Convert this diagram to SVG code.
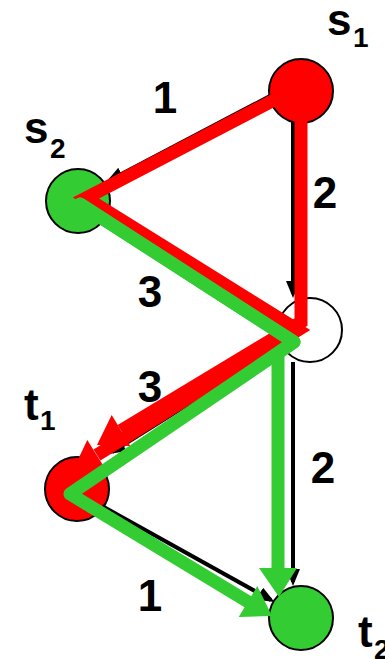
<svg xmlns="http://www.w3.org/2000/svg" width="385" height="659" viewBox="0 0 385 659">
<defs>
<marker id="ah" markerUnits="userSpaceOnUse" markerWidth="17" markerHeight="14" refX="13" refY="7" orient="auto">
<path d="M0,0 L17,7 L0,14 z" fill="#000"/>
</marker>
<style>
.node{stroke:#000;stroke-width:2}
.blk{stroke:#000;stroke-width:4;fill:none;marker-end:url(#ah)}
.red{stroke:#ff0000;stroke-width:13;fill:none;stroke-linejoin:miter;stroke-miterlimit:6}
.grn{stroke:#33cc33;stroke-width:13;fill:none;stroke-linejoin:round;stroke-linecap:round}
.rh{fill:#ff0000}
.gh{fill:#33cc33}
.lbl{font-family:"Liberation Sans",Arial,sans-serif;font-weight:bold;font-size:44px;fill:#000}
.sub{font-size:28px}
</style>
</defs>
<g id="s1"><circle class="node" cx="301" cy="91" r="32" fill="#ff0000"/><text class="lbl" x="327" y="35">s</text><text class="lbl sub" x="353" y="47">1</text></g>
<g id="s2"><circle class="node" cx="78" cy="201" r="32" fill="#33cc33"/><text class="lbl" x="24" y="143">s</text><text class="lbl sub" x="50" y="158">2</text></g>
<g id="v"><circle class="node" cx="310" cy="330" r="32" fill="#ffffff"/></g>
<g id="t1"><circle class="node" cx="77" cy="489" r="32" fill="#ff0000"/><text class="lbl" x="24" y="420">t</text><text class="lbl sub" x="40" y="430">1</text></g>
<g id="t2"><circle class="node" cx="301" cy="618" r="32" fill="#33cc33"/><text class="lbl" x="358" y="647">t</text><text class="lbl sub" x="374" y="659">2</text></g>
<g id="connectors">
<line class="blk" x1="270" y1="96" x2="110" y2="180"/>
<line class="blk" x1="293" y1="122" x2="293" y2="294"/>
<line class="blk" x1="102" y1="218" x2="277" y2="318"/>
<line class="blk" x1="283" y1="345" x2="112" y2="452"/>
<line class="blk" x1="293" y1="362" x2="293" y2="582"/>
<line class="blk" x1="102" y1="506" x2="271" y2="600"/>
<path class="red" d="M301,86 L86,198 L298,330 L97,455"/>
<path class="red" d="M301,90 L301,322 L121,430.5"/>
<polygon class="rh" points="97,445 111.7,415.1 130.3,445.9"/>
<polygon class="rh" points="73,470 87.3,439.9 106.3,470.5"/>
<path class="grn" d="M80,204 L294,342 L278,353 L278,570"/>
<path class="grn" d="M80,204 L294,342 L70,494 L250,603"/>
<polygon class="gh" points="259,568 297,568 279,597"/>
<polygon class="gh" points="272,616 238.7,617 257.3,586"/>
<text class="lbl" x="165" y="113" text-anchor="middle">1</text>
<text class="lbl" x="325" y="208" text-anchor="middle">2</text>
<text class="lbl" x="150" y="307" text-anchor="middle">3</text>
<text class="lbl" x="150" y="402" text-anchor="middle">3</text>
<text class="lbl" x="323" y="483" text-anchor="middle">2</text>
<text class="lbl" x="150" y="611" text-anchor="middle">1</text>
</g>
</svg>
